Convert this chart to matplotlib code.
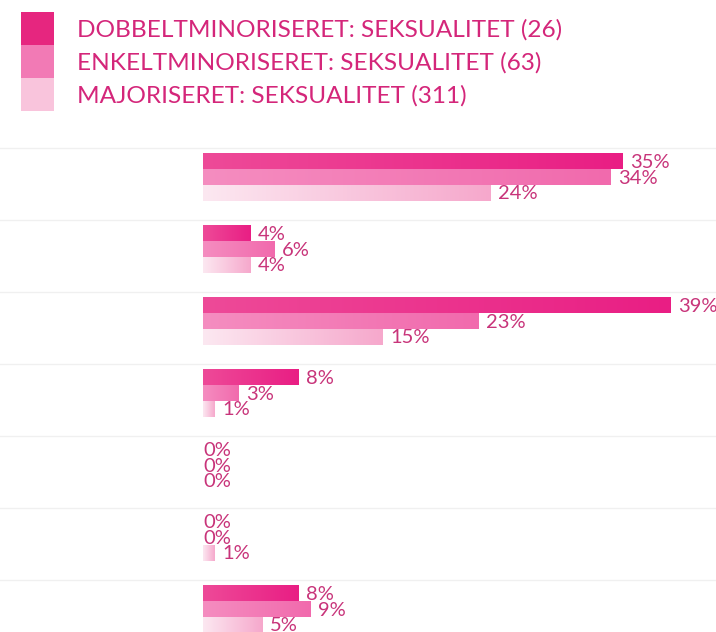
import matplotlib
matplotlib.use("Agg")
import matplotlib.pyplot as plt
import numpy as np
from matplotlib.colors import LinearSegmentedColormap, to_rgb

plt.rcParams['font.family'] = ['Lato', 'DejaVu Sans']

# Data
categories = ["Kategori 1", "Kategori 2", "Kategori 3", "Kategori 4",
              "Kategori 5", "Kategori 6", "Kategori 7"]
series_names = ["DOBBELTMINORISERET: SEKSUALITET (26)",
                "ENKELTMINORISERET: SEKSUALITET (63)",
                "MAJORISERET: SEKSUALITET (311)"]
dobbelt = [35, 4, 39, 8, 0, 0, 8]
enkelt = [34, 6, 23, 3, 0, 0, 9]
majoritet = [24, 4, 15, 1, 0, 1, 5]
series_values = [dobbelt, enkelt, majoritet]

# Styling
W, H, DPI = 716, 632, 100
px_per_pct = 12.0
x_zero_px = 203
group_px = 72.0
first_center_px = 177.0
bar_px = 15.7

grad_colors = [("#EE4A98", "#E91E84"),
               ("#F58DC0", "#F16AAD"),
               ("#FCE8F1", "#F6A8CC")]
legend_colors = ["#E6267F", "#F27AB5", "#F9C4DC"]
label_color = "#C8347A"
legend_text_color = "#D4267A"

fig = plt.figure(figsize=(W / DPI, H / DPI), dpi=DPI)
ax = fig.add_axes([0, 0, 1, 1])
ax.set_xlim(-x_zero_px / px_per_pct, (W - x_zero_px) / px_per_pct)
ax.set_ylim((H - first_center_px) / group_px, -first_center_px / group_px)
ax.axis("off")

y = np.arange(len(categories))
h = bar_px / group_px
offsets = [-h, 0.0, h]

# faint row separators
for yi in y:
    ax.axhline(yi - 0.40, color="#F0F0F0", lw=1.0, zorder=0)

px_in_data = 1.0 / px_per_pct
for s, vals in enumerate(series_values):
    cmap = LinearSegmentedColormap.from_list(f"g{s}", [to_rgb(grad_colors[s][0]),
                                                        to_rgb(grad_colors[s][1])])
    bars = ax.barh(y + offsets[s], vals, height=h, color=grad_colors[s][1],
                   edgecolor="none", zorder=2)
    for rect, v, yc in zip(bars, vals, y + offsets[s]):
        if v > 0:
            grad = np.linspace(0, 1, 256).reshape(1, -1)
            im = ax.imshow(grad, cmap=cmap, aspect="auto", zorder=3,
                           extent=[0, v, yc + h / 2, yc - h / 2],
                           interpolation="bicubic")
            im.set_clip_path(rect)
        gap = 7 * px_in_data if v > 0 else 0.0
        ax.text(v + gap, yc + 0.015, f"{v}%", ha="left", va="center",
                fontsize=14.5, color=label_color, zorder=4)

# legend: stacked swatches with labels
sw_x0, sw_x1 = 21, 54
sw_top, sw_h = 12, 33
for i, (name, col) in enumerate(zip(series_names, legend_colors)):
    top = sw_top + i * sw_h
    fig.patches.append(plt.Rectangle((sw_x0 / W, 1 - (top + sw_h) / H),
                                     (sw_x1 - sw_x0) / W, sw_h / H,
                                     transform=fig.transFigure,
                                     facecolor=col, edgecolor="none"))
    fig.text(77 / W, 1 - (top + sw_h / 2 + 1) / H, name, ha="left", va="center",
             fontsize=17.6, color=legend_text_color)

fig.savefig("out.png", dpi=DPI)
